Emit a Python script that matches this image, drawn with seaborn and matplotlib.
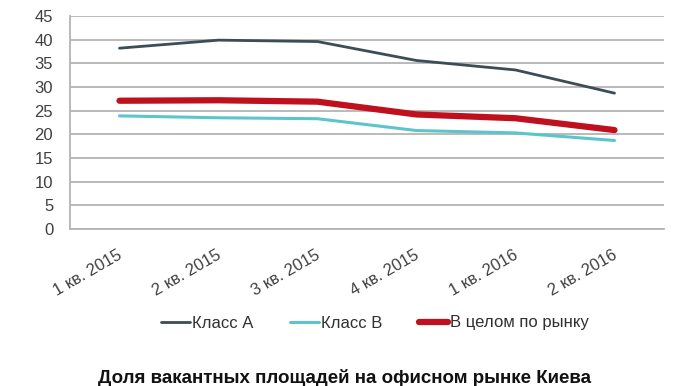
import matplotlib
matplotlib.use('Agg')
import matplotlib.pyplot as plt
import matplotlib.transforms as mtransforms
import numpy as np
import pandas as pd
import seaborn as sns

# quarters on the x axis
quarters = ['1 кв. 2015', '2 кв. 2015', '3 кв. 2015', '4 кв. 2015', '1 кв. 2016', '2 кв. 2016']
# vacancy rates, %
class_a = [38.2, 39.9, 39.6, 35.6, 33.6, 28.7]
class_b = [23.9, 23.5, 23.3, 20.8, 20.3, 18.7]
market = [27.1, 27.2, 26.9, 24.2, 23.4, 20.9]
series_names = ['Класс А', 'Класс В', 'В целом по рынку']
title_text = 'Доля вакантных площадей на офисном рынке Киева'

sns.set_style('white')
plt.rcParams['font.family'] = ['Liberation Sans', 'DejaVu Sans']

df = pd.DataFrame({'quarter': quarters * 3,
                   'pos': list(range(len(quarters))) * 3,
                   'value': class_a + class_b + market,
                   'series': np.repeat(series_names, len(quarters))})

colors = {'Класс А': '#3d4d56', 'Класс В': '#5cc5cb', 'В целом по рынку': '#c0101d'}
widths = {'Класс А': 2.0, 'Класс В': 2.2, 'В целом по рынку': 4.5}

fig = plt.figure(figsize=(6.86, 3.86), dpi=100)
ax = fig.add_axes([70 / 686, 1 - 229 / 386, 594 / 686, 213 / 386])

for name in series_names:
    sns.lineplot(data=df[df['series'] == name], x='pos', y='value', color=colors[name],
                 linewidth=widths[name], label=name, ax=ax, solid_capstyle='round')

grid_c = '#b4b4b4'
txt_c = '#404040'
ax.set_xlim(-0.5, len(quarters) - 0.5)
ax.set_ylim(0, 45)
ax.set_yticks(range(0, 46, 5))
ax.yaxis.grid(True, color=grid_c, linewidth=1.3)
ax.set_axisbelow(True)
for s in ['top', 'right']:
    ax.spines[s].set_visible(False)
for s in ['left', 'bottom']:
    ax.spines[s].set_color(grid_c)
    ax.spines[s].set_linewidth(1.3)
ax.tick_params(axis='y', length=3.6, color=grid_c, width=1.3, labelsize=12, labelcolor=txt_c, pad=8.5)

ax.set_xticks(range(len(quarters)))
ax.set_xticklabels(quarters)
ax.set_xticks(np.arange(-0.5, len(quarters), 1.0), minor=True)
ax.tick_params(axis='x', which='major', length=0, labelsize=12, labelcolor=txt_c, pad=13)
ax.tick_params(axis='x', which='minor', length=4, color=grid_c, width=1.3)
offset = mtransforms.ScaledTranslation(-2 / 100, 0, fig.dpi_scale_trans)
for lbl in ax.get_xticklabels():
    lbl.set_rotation(30)
    lbl.set_ha('right')
    lbl.set_va('top')
    lbl.set_rotation_mode('anchor')
    lbl.set_transform(lbl.get_transform() + offset)
ax.set_xlabel('')
ax.set_ylabel('')

ax.legend(loc='center', bbox_to_anchor=(375 / 686, 1 - 323 / 386), bbox_transform=fig.transFigure,
          ncol=3, frameon=False, fontsize=12, handlelength=1.75, handletextpad=0.1,
          columnspacing=2.2, labelcolor='#303030')

fig.text(344 / 686, 1 - 383 / 386, title_text, ha='center', va='baseline',
         fontsize=13.5, fontweight='bold', color='#111111')

fig.savefig('out.png', dpi=100)
